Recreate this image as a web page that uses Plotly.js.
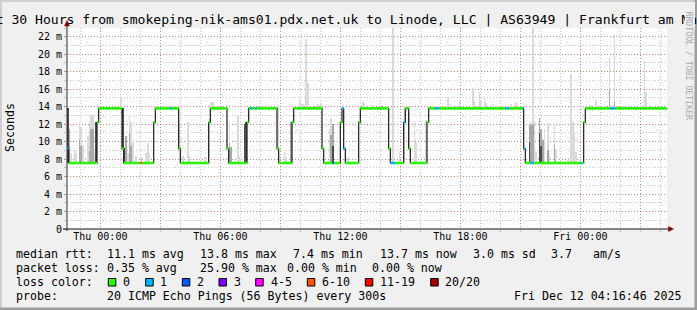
<!DOCTYPE html>
<html><head><meta charset="utf-8">
<script src="https://cdn.plot.ly/plotly-3.0.1.min.js"></script>
<style>html,body{margin:0;padding:0;background:#f0f0f0;}#chart{width:697px;height:310px;}</style>
</head><body><div id="chart"></div>
<script>
// ---------------- data ----------------
const startTime = Date.UTC(2025, 11, 10, 22, 20); // Wed 22:20 (left edge)
const stepMs = 5 * 60 * 1000;                      // one probe every 300 s
const stepCount = 360;                             // 30 hours

// median rtt in ms, as runs of [number of steps, value]
const medianRuns = [
  [1,9.25],[17,7.55],[1,12.2],[14,13.8],[1,9.2],[18,7.55],[1,12.2],[14,13.8],[1,9.2],[17,7.55],
  [1,12.2],[10,13.8],[1,9.2],[11,7.55],[1,12.2],[17,13.8],[1,9.2],[8,7.55],[1,12.2],[17,13.8],
  [1,9.2],[10,7.55],[1,12.2],[1,13.8],[1,9.2],[8,7.55],[1,12.2],[17,13.8],[1,9.2],[8,7.55],
  [1,12.2],[2,13.8],[1,9.2],[10,7.55],[1,12.2],[57,13.8],[1,9.2],[35,7.55],[1,12.2],[49,13.8]
];
// steps with packet loss: [step, loss bucket index]
const lossPoints = [[0,1],[44,5],[62,1],[110,1],[113,1],[159,2],[165,1],[166,1],[194,1],[195,1],[196,1],
  [202,1],[221,1],[222,1],[263,1],[264,1],[273,1],[274,1],[278,1],[279,1],[308,1],[326,1],[327,1],[328,1]];

// smoke (ping spread) per step: [step, low ms, high ms]
const smokeLight = [
  [2,7.4,8.7],[4,7.4,9.0],[5,7.4,8.7],[7,7.4,12.3],[8,7.4,11.7],[9,7.4,9.6],[12,7.4,10.6],[13,7.4,12.1],[14,7.4,13.0],[15,7.4,13.0],[16,7.4,8.7],
  [32,13.7,15.0],[36,7.4,8.7],[37,7.4,12.9],[38,7.4,12.3],[39,7.4,9.8],[41,7.4,8.3],[44,7.4,8.2],[47,7.4,8.7],[48,7.4,9.8],[49,7.4,8.7],
  [67,9.2,12.3],[69,7.4,8.3],[72,7.4,12.3],[73,7.4,8.3],[82,7.4,8.2],[83,7.4,8.2],[85,7.5,12.7],[86,13.7,14.5],[87,13.7,14.5],
  [97,7.5,12.3],[102,7.4,13.0],[103,7.4,8.3],[126,9.2,14.2],[130,7.4,8.85],[131,7.4,8.2],
  [139,13.7,14.8],[140,13.7,14.4],[141,13.7,14.3],[143,13.7,21.7],[144,13.7,16.7],[148,13.7,14.2],[150,13.7,14.3],[152,13.7,14.3],
  [157,7.5,11.5],[158,7.5,12.7],[165,13.7,14.2],[168,7.4,8.2],[177,13.7,14.5],[178,13.7,14.4],
  [182,13.7,14.2],[188,13.7,14.2],[195,7.4,23.5],[199,7.4,8.85],[202,7.5,14.0],[205,9.2,13.4],[208,7.4,12.2],[209,7.4,9.9],[215,7.5,12.5],
  [223,13.7,14.2],[228,13.7,15.1],[229,13.7,14.3],[235,13.7,14.7],[243,13.7,16.1],[244,13.7,14.7],[247,13.7,15.7],[248,13.7,14.6],
  [250,13.7,15.2],[251,13.7,14.4],[255,13.7,14.3],[257,13.7,14.2],[266,13.7,14.3],[269,13.7,14.4],
  [278,7.5,12.2],[279,7.4,23.5],[280,7.4,12.4],[281,7.4,8.85],[286,7.4,11.5],[288,7.4,12.1],[289,7.4,8.7],[292,7.4,11.8],[293,7.4,9.1],
  [300,7.4,7.9],[302,7.4,17.7],[303,7.4,12.3],[304,7.4,11.2],[305,7.4,8.85],
  [314,13.7,14.2],[317,13.7,14.8],[325,13.7,19.6],[326,13.7,14.2],[327,13.7,14.2],[328,13.7,22.3],[344,13.7,14.2],[346,13.7,19.2],[347,13.7,15.7]
];
const smokeMid = [
  [1,7.5,11.5],[7,7.4,10.2],[8,7.4,9.5],[13,7.4,8.9],[14,7.4,11.5],[15,7.4,11.5],[35,7.4,10.6],[37,7.4,11.0],[38,7.4,9.5],
  [97,7.5,9.8],[98,7.5,9.4],[134,7.5,12.3],[158,7.5,10.8],[159,7.5,12.0],[277,7.5,11.9],[278,7.5,11.9],[279,7.5,12.0],
  [283,7.5,12.7],[284,7.5,11.5],[285,7.4,10.2],[288,7.4,9.0],[292,7.4,9.7],[325,13.7,15.9],[328,13.7,14.5]
];
const smokeDark = [
  [0,7.5,13.8],[17,7.5,12.2],[33,9.2,13.8],[34,7.5,9.3],[106,7.5,12.0],[107,7.5,12.3],[159,7.5,9.5],[277,7.5,10.0],[283,7.5,11.0],[284,7.5,9.5]
];

const xTickTimes = ['2025-12-11 00:00','2025-12-11 03:00','2025-12-11 06:00','2025-12-11 09:00','2025-12-11 12:00',
  '2025-12-11 15:00','2025-12-11 18:00','2025-12-11 21:00','2025-12-12 00:00','2025-12-12 03:00'];
const xTickLabels = ['Thu 00:00','','Thu 06:00','','Thu 12:00','','Thu 18:00','','Fri 00:00',''];
const yTickVals = [0,2,4,6,8,10,12,14,16,18,20,22];
const yTickLabels = ['0','2 m','4 m','6 m','8 m','10 m','12 m','14 m','16 m','18 m','20 m','22 m'];

const lossBuckets = ['0','1','2','3','4-5','6-10','11-19','20/20'];
const lossColors = ['#26ff00','#00b8ff','#0059ff','#7e00ff','#ff00ff','#ff5500','#ff0000','#a10000'];

const titleText = 'Last 30 Hours from smokeping-nik-ams01.pdx.net.uk to Linode, LLC | AS63949 | Frankfurt am Main';
const rttStats = ['median rtt:','11.1 ms avg','13.8 ms max','7.4 ms min','13.7 ms now','3.0 ms sd','3.7','am/s'];
const lossStats = ['packet loss:','0.35 % avg','25.90 % max','0.00 % min','0.00 % now'];
const probeInfo = ['probe:','20 ICMP Echo Pings (56 Bytes) every 300s','Fri Dec 12 04:16:46 2025'];

// ---------------- geometry helpers (pixel -> paper) ----------------
const L = 67, R = 667, T = 28, B = 229;
const X = px => (px - L) / (R - L);
const Y = py => (B - py) / (B - T);

// ---------------- build traces ----------------
const median = [];
medianRuns.forEach(([n, v]) => { for (let k = 0; k < n; k++) median.push(v); });
const lossOf = new Array(median.length).fill(0);
lossPoints.forEach(([i, b]) => { lossOf[i] = b; });
const tAt = i => startTime + i * stepMs;

function smokeTrace(list, color) {
  return {
    type: 'bar', x: list.map(d => tAt(d[0] + 0.5)), base: list.map(d => d[1]),
    y: list.map(d => d[2] - d[1]), width: list.map(() => stepMs),
    marker: {color: color, line: {width: 0}}, hoverinfo: 'skip'
  };
}
const traces = [
  smokeTrace(smokeLight, '#dadada'),
  smokeTrace(smokeMid, '#a9a9a9'),
  smokeTrace(smokeDark, '#4d4d4d')
];
// black connecting staircase
traces.push({
  type: 'scatter', mode: 'lines',
  x: median.map((v, i) => tAt(i)).concat([tAt(median.length)]),
  y: median.concat([median[median.length - 1]]),
  line: {shape: 'hv', color: '#1c1c1c', width: 1.2}, hoverinfo: 'skip'
});
// coloured median segments by loss bucket
lossColors.forEach((c, b) => {
  const xs = [], ys = [];
  median.forEach((v, i) => {
    if (lossOf[i] === b) { xs.push(tAt(i), tAt(i + 1), null); ys.push(v, v, null); }
  });
  if (xs.length) traces.push({type: 'scatter', mode: 'lines', x: xs, y: ys,
    line: {color: c, width: 2.6}, hoverinfo: 'skip', connectgaps: false});
});

// ---------------- annotations ----------------
const MONO = 'DejaVu Sans Mono';
function txt(s, px, py, size, anchor, extra) {
  return Object.assign({
    text: s.replace(/ /g, '\u00a0'), x: X(px), y: Y(py), xref: 'paper', yref: 'paper',
    xanchor: anchor || 'left', yanchor: 'middle', showarrow: false, borderpad: 0,
    font: {family: MONO, size: size, color: '#000'}
  }, extra || {});
}
const LF = 11.6;
const ann = [];
ann.push(txt(titleText, 342.5, 19.5, 13.1, 'center'));
// background patch: the original clips the title at the watermark column
ann.push({text: '\u00a0', x: X(685), y: Y(2), xref: 'paper', yref: 'paper', xanchor: 'left', yanchor: 'top',
  showarrow: false, width: 9.5, height: 28, bgcolor: '#f0f0f0', borderpad: 0, borderwidth: 0, font: {size: 4}});
ann.push(txt('RRDTOOL / TOBI OETIKER', 688.5, 66, 8.2, 'center', {textangle: 90, font: {family: MONO, size: 8.2, color: '#a9a9a9'}}));
ann.push(txt('Seconds', 10, 128, LF, 'center', {textangle: -90}));
const rttX = [15, 106, 198.5, 292, 378.5, 471.5, 550, 592];
rttStats.forEach((s, k) => ann.push(txt(s, rttX[k], 254.3, LF)));
const lossX = [15, 106, 198.5, 285.5, 371.5];
lossStats.forEach((s, k) => ann.push(txt(s, lossX[k], 268.3, LF)));
ann.push(txt('loss color:', 15, 282.3, LF));
const swX = [108.3, 145.7, 182.3, 219, 255.7, 307.3, 365.3, 430.7];
const lbX = [122, 159, 196, 233, 269.5, 321, 378.5, 444];
lossBuckets.forEach((s, k) => ann.push(txt(s, lbX[k], 282.3, LF)));
const probeX = [15, 106, 513];
probeInfo.forEach((s, k) => ann.push(txt(s, probeX[k], 296, LF)));

// ---------------- shapes (axes, arrows, swatches, frame) ----------------
const shapes = [];
const P = {xref: 'paper', yref: 'paper', layer: 'above'};
lossColors.forEach((c, k) => shapes.push(Object.assign({type: 'rect', x0: X(swX[k]), x1: X(swX[k] + 7.5),
  y0: Y(286), y1: Y(278.5), fillcolor: c, line: {color: '#000', width: 1}}, P)));
shapes.push(Object.assign({type: 'line', x0: X(67), x1: X(67), y0: Y(231), y1: Y(25), line: {color: '#303030', width: 1}}, P));
shapes.push(Object.assign({type: 'line', x0: X(63), x1: X(669), y0: Y(229), y1: Y(229), line: {color: '#101010', width: 1}}, P));
shapes.push(Object.assign({type: 'path', path: `M ${X(64.5)} ${Y(26)} L ${X(69.5)} ${Y(26)} L ${X(67)} ${Y(20.5)} Z`,
  fillcolor: '#7f0000', line: {color: '#7f0000', width: 0.5}}, P));
shapes.push(Object.assign({type: 'path', path: `M ${X(668.5)} ${Y(226.5)} L ${X(668.5)} ${Y(231.5)} L ${X(673.5)} ${Y(229)} Z`,
  fillcolor: '#7f0000', line: {color: '#7f0000', width: 0.5}}, P));
// frame
shapes.push(Object.assign({type: 'rect', x0: X(0), x1: X(697), y0: Y(2), y1: Y(0), fillcolor: '#cfcfcf', line: {width: 0}}, P));
shapes.push(Object.assign({type: 'rect', x0: X(0), x1: X(2), y0: Y(310), y1: Y(0), fillcolor: '#cfcfcf', line: {width: 0}}, P));
shapes.push(Object.assign({type: 'rect', x0: X(694.5), x1: X(697), y0: Y(310), y1: Y(0), fillcolor: '#9e9e9e', line: {width: 0}}, P));
shapes.push(Object.assign({type: 'rect', x0: X(0), x1: X(697), y0: Y(310), y1: Y(307.5), fillcolor: '#9e9e9e', line: {width: 0}}, P));

const majorGrid = 'rgba(222,80,80,0.55)';
const minorGrid = 'rgba(143,143,143,0.5)';
const layout = {
  width: 697, height: 310,
  margin: {l: L, r: 697 - R, t: T, b: 310 - B, pad: 0},
  paper_bgcolor: '#f0f0f0', plot_bgcolor: '#ffffff',
  showlegend: false, barmode: 'overlay', bargap: 0,
  font: {family: MONO, size: 10, color: '#000'},
  xaxis: {
    type: 'date', range: [startTime, tAt(stepCount)], fixedrange: true,
    tickmode: 'array', tickvals: xTickTimes, ticktext: xTickLabels,
    ticks: '', ticklabelstandoff: 0,
    showgrid: true, gridcolor: majorGrid, griddash: '1px,2px', gridwidth: 1,
    minor: {dtick: 3600000, showgrid: true, gridcolor: minorGrid, griddash: '1px,2px', ticks: 'outside', ticklen: 2, tickcolor: minorGrid},
    tickfont: {family: MONO, size: 10, color: '#000'},
    showline: false, zeroline: false
  },
  yaxis: {
    range: [0, 23], fixedrange: true,
    tickmode: 'array', tickvals: yTickVals, ticktext: yTickLabels,
    ticks: 'outside', ticklen: 2, tickcolor: majorGrid,
    showgrid: true, gridcolor: majorGrid, griddash: '1px,2px', gridwidth: 1,
    minor: {dtick: 1, showgrid: true, gridcolor: minorGrid, griddash: '1px,2px', ticks: 'outside', ticklen: 2, tickcolor: minorGrid},
    tickfont: {family: MONO, size: 10, color: '#000'},
    showline: false, zeroline: false
  },
  annotations: ann,
  shapes: shapes
};
Plotly.newPlot('chart', traces, layout, {staticPlot: true, displayModeBar: false});
</script>
</body></html>
